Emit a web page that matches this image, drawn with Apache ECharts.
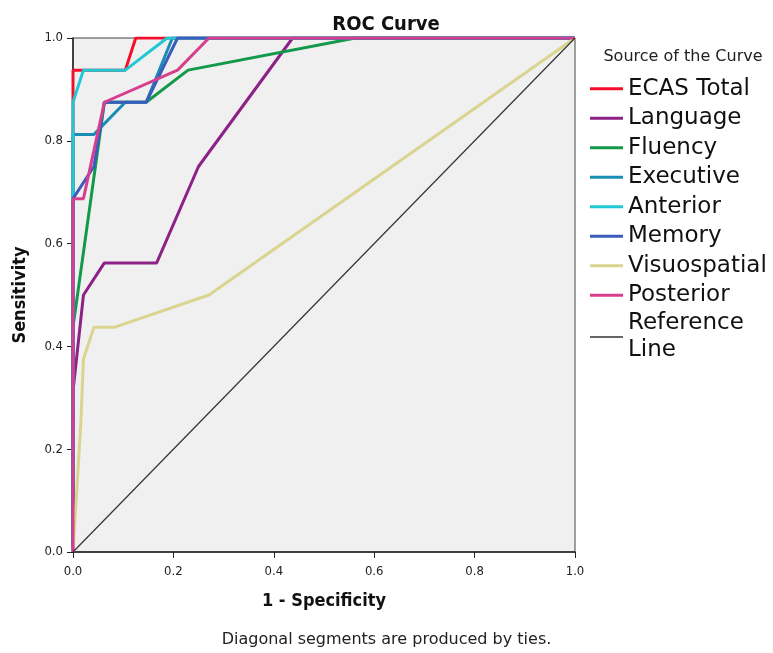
<!DOCTYPE html>
<html>
<head>
<meta charset="utf-8">
<title>ROC Curve</title>
<script src="https://cdn.jsdelivr.net/npm/echarts@6/dist/echarts.min.js"></script>
<style>
  html, body { margin: 0; padding: 0; background: #ffffff; }
  #chart { width: 773px; height: 653px; }
</style>
</head>
<body>
<div id="chart"></div>
<script>
// ROC coordinates (1 - specificity, sensitivity) for each ECAS score
const seriesNames = ['ECAS Total', 'Language', 'Fluency', 'Executive', 'Anterior', 'Memory', 'Visuospatial', 'Posterior'];

const ecasTotalFpr   = [0, 0, 0.1042, 0.125, 1];
const ecasTotalTpr   = [0, 0.9375, 0.9375, 1, 1];

const languageFpr    = [0, 0, 0.0208, 0.0625, 0.1667, 0.25, 0.4375, 1];
const languageTpr    = [0, 0.3125, 0.5, 0.5625, 0.5625, 0.75, 1, 1];

const fluencyFpr     = [0, 0, 0.0625, 0.1458, 0.2292, 0.5625, 1];
const fluencyTpr     = [0, 0.4375, 0.875, 0.875, 0.9375, 1, 1];

const executiveFpr   = [0, 0, 0.0417, 0.1042, 0.1458, 0.1979, 1];
const executiveTpr   = [0, 0.8125, 0.8125, 0.875, 0.875, 1, 1];

const anteriorFpr    = [0, 0, 0.0208, 0.1042, 0.1875, 1];
const anteriorTpr    = [0, 0.875, 0.9375, 0.9375, 1, 1];

const memoryFpr      = [0, 0, 0.0417, 0.0625, 0.1458, 0.2083, 1];
const memoryTpr      = [0, 0.6875, 0.75, 0.875, 0.875, 1, 1];

const visuospatialFpr = [0, 0.0156, 0.0208, 0.0417, 0.0833, 0.2708, 1];
const visuospatialTpr = [0, 0.25, 0.375, 0.4375, 0.4375, 0.5, 1];

const posteriorFpr   = [0, 0, 0.0208, 0.0625, 0.2083, 0.2708, 1];
const posteriorTpr   = [0, 0.6875, 0.6875, 0.875, 0.9375, 1, 1];

const referenceFpr   = [0, 1];
const referenceTpr   = [0, 1];

const axisTicks = [0, 0.2, 0.4, 0.6, 0.8, 1.0];

const curveColors = ['#f4102a', '#8c2286', '#12994a', '#1b8db4', '#1fc8d2', '#3a5cbd', '#d9d58f', '#d63f8e'];

function pairs(xs, ys) {
  return xs.map((x, i) => [x, ys[i]]);
}

const curveData = [
  pairs(ecasTotalFpr, ecasTotalTpr),
  pairs(languageFpr, languageTpr),
  pairs(fluencyFpr, fluencyTpr),
  pairs(executiveFpr, executiveTpr),
  pairs(anteriorFpr, anteriorTpr),
  pairs(memoryFpr, memoryTpr),
  pairs(visuospatialFpr, visuospatialTpr),
  pairs(posteriorFpr, posteriorTpr)
];

const series = seriesNames.map((name, i) => ({
  name: name,
  type: 'line',
  data: curveData[i],
  showSymbol: false,
  symbol: 'none',
  color: curveColors[i],
  lineStyle: { width: 3, color: curveColors[i] },
  z: 2 + i
}));

series.push({
  name: 'Reference\nLine',
  type: 'line',
  data: pairs(referenceFpr, referenceTpr),
  showSymbol: false,
  symbol: 'none',
  color: '#333333',
  lineStyle: { width: 1.2, color: '#333333' },
  z: 20
});

const tickFont = { fontFamily: 'DejaVu Sans Condensed', fontSize: 13, color: '#222' };
const nameFont = { fontFamily: 'DejaVu Sans Condensed', fontWeight: 'bold', fontSize: 18, color: '#111' };

const chart = echarts.init(document.getElementById('chart'), null, { renderer: 'canvas' });

chart.setOption({
  animation: false,
  backgroundColor: '#ffffff',
  title: [
    {
      text: 'ROC Curve',
      left: 381, top: 10, textAlign: 'center',
      textStyle: { fontFamily: 'DejaVu Sans Condensed', fontWeight: 'bold', fontSize: 20, color: '#111' }
    },
    {
      text: 'Source of the Curve',
      left: 678, top: 44, textAlign: 'center',
      textStyle: { fontFamily: 'DejaVu Sans', fontWeight: 'normal', fontSize: 16, color: '#222' }
    }
  ],
  legend: {
    orient: 'vertical',
    left: 590,
    top: 74,
    padding: 0,
    itemGap: 0,
    itemWidth: 33,
    itemHeight: 3,
    icon: 'rect',
    selectedMode: false,
    textStyle: { fontFamily: 'DejaVu Sans', fontSize: 23, color: '#111', lineHeight: 29.5 },
    data: seriesNames.concat([{ name: 'Reference\nLine', icon: 'path://M0 0H33V1.6H0Z', textStyle: { lineHeight: 27 } }])
  },
  grid: {
    left: 73, right: 198, top: 38, bottom: 101,
    show: true,
    backgroundColor: '#f0f0f0',
    borderColor: '#444',
    borderWidth: 1
  },
  xAxis: {
    type: 'value',
    min: 0, max: 1, interval: 0.2,
    name: '1 - Specificity',
    nameLocation: 'middle',
    nameGap: 40,
    nameTextStyle: nameFont,
    axisLine: { show: true, onZero: false, lineStyle: { color: '#222', width: 1.5 } },
    axisTick: { show: true, inside: false, length: 6, lineStyle: { color: '#222' } },
    axisLabel: Object.assign({ margin: 13, formatter: v => (axisTicks.includes(v) ? v.toFixed(1) : '') }, tickFont),
    splitLine: { show: false }
  },
  yAxis: {
    type: 'value',
    min: 0, max: 1, interval: 0.2,
    name: 'Sensitivity',
    nameLocation: 'middle',
    nameGap: 44,
    nameTextStyle: nameFont,
    axisLine: { show: true, onZero: false, lineStyle: { color: '#222', width: 1.5 } },
    axisTick: { show: true, inside: false, length: 6, lineStyle: { color: '#222' } },
    axisLabel: Object.assign({ margin: 10, formatter: v => (axisTicks.includes(v) ? v.toFixed(1) : '') }, tickFont),
    splitLine: { show: false }
  },
  graphic: [
    {
      type: 'text',
      left: 'center',
      top: 632,
      style: {
        text: 'Diagonal segments are produced by ties.',
        fontFamily: 'DejaVu Sans',
        fontSize: 16,
        fill: '#222'
      }
    }
  ],
  series: series
});
</script>
</body>
</html>
